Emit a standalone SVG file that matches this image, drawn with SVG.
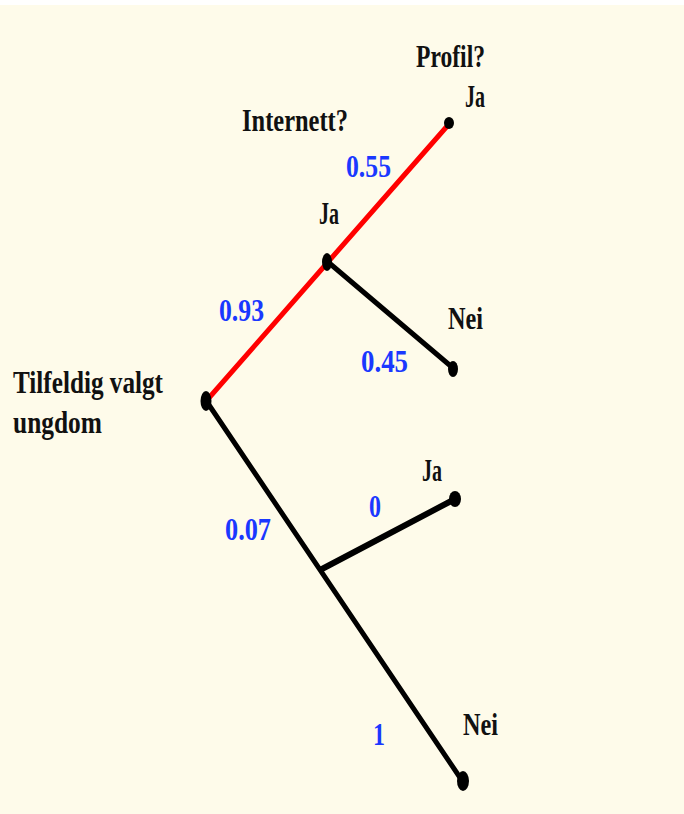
<svg xmlns="http://www.w3.org/2000/svg" width="684" height="814" viewBox="0 0 684 814">
<style>
.t{font-family:"Liberation Serif","DejaVu Serif",serif;font-weight:bold;font-size:32px;fill:#111}
.p{font-family:"Liberation Serif","DejaVu Serif",serif;font-weight:bold;font-size:32px;fill:#1a38ff}
.red{stroke:#ff0000;stroke-width:5;fill:none;stroke-linecap:round}
.blk{stroke:#000;stroke-width:5;fill:none;stroke-linecap:round}
.dot{fill:#000}
</style>
<rect x="0" y="0" width="684" height="814" fill="#ffffff"/>
<rect x="0" y="5" width="684" height="809" fill="#fefbea"/>
<g id="connectors">
<line class="red" x1="208" y1="399" x2="328" y2="262"/>
<line class="red" x1="328" y1="262" x2="449" y2="124"/>
<line class="blk" x1="328" y1="262" x2="453" y2="368"/>
<line class="blk" x1="207" y1="402" x2="463" y2="782"/>
<line class="blk" x1="322" y1="569" x2="455" y2="499" style="stroke-width:6"/>
</g>
<g id="root">
<ellipse class="dot" cx="206" cy="401" rx="5.5" ry="10"/>
<text class="t" x="13" y="393" textLength="150" lengthAdjust="spacingAndGlyphs">Tilfeldig valgt</text>
<text class="t" x="13" y="433" textLength="89" lengthAdjust="spacingAndGlyphs">ungdom</text>
</g>
<g id="internett-ja">
<ellipse class="dot" cx="327" cy="262" rx="5" ry="9"/>
<text class="t" x="319" y="224" textLength="20" lengthAdjust="spacingAndGlyphs">Ja</text>
<text class="t" x="242" y="131" textLength="106" lengthAdjust="spacingAndGlyphs">Internett?</text>
</g>
<g id="profil-ja">
<ellipse class="dot" cx="449" cy="123" rx="5" ry="6"/>
<text class="t" x="465" y="107" textLength="20" lengthAdjust="spacingAndGlyphs">Ja</text>
<text class="t" x="416" y="67" textLength="69" lengthAdjust="spacingAndGlyphs">Profil?</text>
</g>
<g id="profil-nei">
<ellipse class="dot" cx="453" cy="369" rx="5" ry="8"/>
<text class="t" x="448" y="329" textLength="35" lengthAdjust="spacingAndGlyphs">Nei</text>
</g>
<g id="nei-ja">
<ellipse class="dot" cx="455" cy="499" rx="6" ry="8"/>
<text class="t" x="422" y="481" textLength="20" lengthAdjust="spacingAndGlyphs">Ja</text>
</g>
<g id="nei-nei">
<ellipse class="dot" cx="463" cy="781" rx="6" ry="10"/>
<text class="t" x="463" y="735" textLength="35" lengthAdjust="spacingAndGlyphs">Nei</text>
</g>
<g id="probabilities">
<text class="p" x="346" y="177" textLength="45" lengthAdjust="spacingAndGlyphs">0.55</text>
<text class="p" x="219" y="321" textLength="45" lengthAdjust="spacingAndGlyphs">0.93</text>
<text class="p" x="361" y="372" textLength="47" lengthAdjust="spacingAndGlyphs">0.45</text>
<text class="p" x="369" y="517" textLength="12" lengthAdjust="spacingAndGlyphs">0</text>
<text class="p" x="225" y="540" textLength="46" lengthAdjust="spacingAndGlyphs">0.07</text>
<text class="p" x="373" y="745" textLength="12" lengthAdjust="spacingAndGlyphs">1</text>
</g>
</svg>
